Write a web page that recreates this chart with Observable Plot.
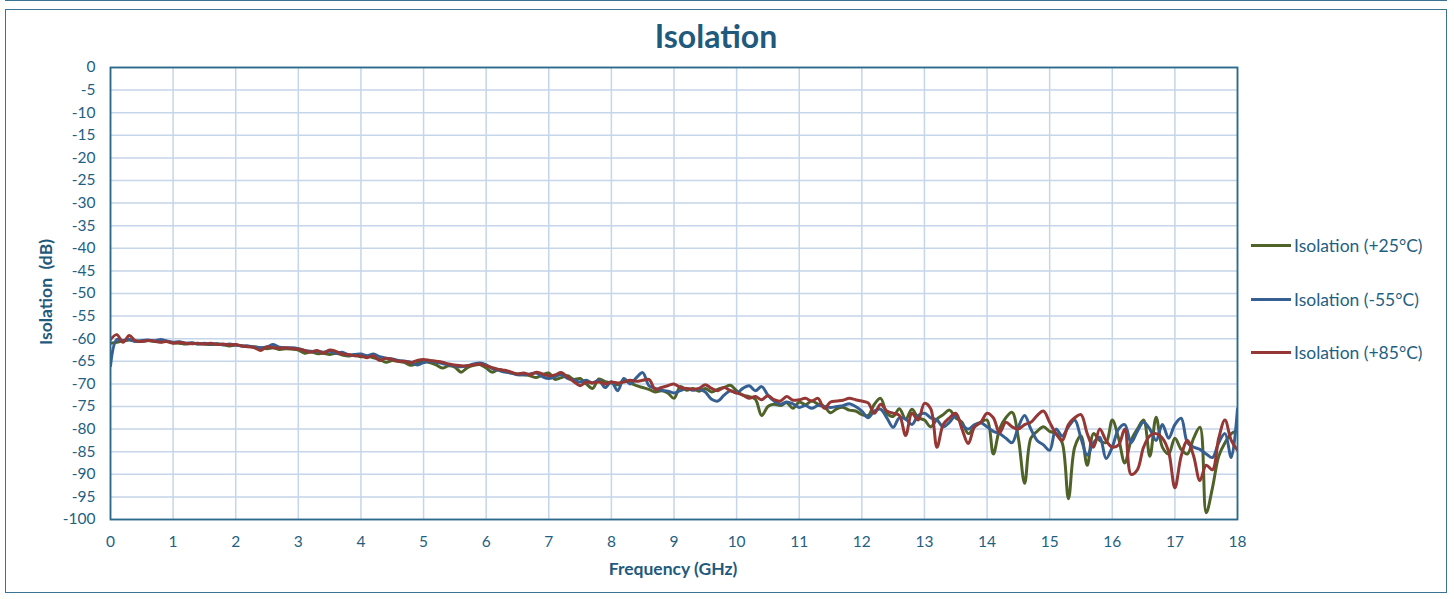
<!DOCTYPE html>
<html>
<head>
<meta charset="utf-8">
<script src="https://cdn.jsdelivr.net/npm/d3@7"></script>
<script src="https://cdn.jsdelivr.net/npm/@observablehq/plot@0.6"></script>
<style>
  html, body { margin: 0; padding: 0; background: #fff; }
  #wrap { position: relative; width: 1454px; height: 599px; font-family: Lato, "Open Sans", sans-serif; overflow: hidden; }
  #topline { position: absolute; left: 5px; top: -2px; width: 1440px; height: 2px; border: 1.5px solid #3b7393; border-top: none; }
  #box { position: absolute; left: 5px; top: 9px; width: 1440px; height: 582px; border: 1.5px solid #3b7393; }
  #title { position: absolute; left: 0; width: 1432px; top: 16px; text-align: center; font-weight: bold; font-size: 32px; color: #1f5a7c; }
  #ylab { position: absolute; left: 45px; top: 292px; transform: translate(-50%, -50%) rotate(-90deg); font-weight: bold; font-size: 17.5px; color: #1f5a7c; white-space: pre; }
  #xlab { position: absolute; left: 673px; top: 568px; transform: translate(-50%, -50%); font-weight: bold; font-size: 17.5px; color: #1f5a7c; }
  .leg { position: absolute; left: 1251px; height: 22px; display: flex; align-items: center; font-size: 17.5px; color: #1f5f82; }
  .leg span.sw { display: inline-block; width: 40px; height: 3px; margin-right: 3px; }
  #chart { position: absolute; left: 0; top: 0; }
</style>
</head>
<body>
<div id="wrap">
  <div id="topline"></div>
  <div id="box"></div>
  <div id="chart"></div>
  <div id="title">Isolation</div>
  <div id="ylab">Isolation  (dB)</div>
  <div id="xlab">Frequency (GHz)</div>
  <div id="legend"></div>
</div>
<script>
const freq = [
0.0,0.1,0.2,0.3,0.4,0.5,0.6,0.7,0.8,0.9,
1.0,1.1,1.2,1.3,1.4,1.5,1.6,1.7,1.8,1.9,
2.0,2.1,2.2,2.3,2.4,2.5,2.6,2.7,2.8,2.9,
3.0,3.1,3.2,3.3,3.4,3.5,3.6,3.7,3.8,3.9,
4.0,4.1,4.2,4.3,4.4,4.5,4.6,4.7,4.8,4.9,
5.0,5.1,5.2,5.3,5.4,5.5,5.6,5.7,5.8,5.9,
6.0,6.1,6.2,6.3,6.4,6.5,6.6,6.7,6.8,6.9,
7.0,7.1,7.2,7.3,7.4,7.5,7.6,7.7,7.8,7.9,
8.0,8.1,8.2,8.3,8.4,8.5,8.6,8.7,8.8,8.9,
9.0,9.1,9.2,9.3,9.4,9.5,9.6,9.7,9.8,9.9,
10.0,10.1,10.2,10.3,10.4,10.5,10.6,10.7,10.8,10.9,
11.0,11.1,11.2,11.3,11.4,11.5,11.6,11.7,11.8,11.9,
12.0,12.1,12.2,12.3,12.4,12.5,12.6,12.7,12.8,12.9,
13.0,13.1,13.2,13.3,13.4,13.5,13.6,13.7,13.8,13.9,
14.0,14.1,14.2,14.3,14.4,14.5,14.6,14.7,14.8,14.9,
15.0,15.1,15.2,15.3,15.4,15.5,15.6,15.7,15.8,15.9,
16.0,16.1,16.2,16.3,16.4,16.5,16.6,16.7,16.8,16.9,
17.0,17.1,17.2,17.3,17.4,17.5,17.6,17.7,17.8,17.9,
18.0];

const iso25 = [
-61,-60.8,-60.5,-60.3,-60.5,-60.6,-60.4,-60.6,-60.7,-60.6,
-60.9,-61.0,-61.2,-61.0,-61.1,-61.2,-61.3,-61.2,-61.3,-61.6,
-61.4,-61.6,-61.7,-61.8,-62.0,-62.2,-62.0,-62.4,-62.2,-62.3,
-62.5,-63.2,-62.9,-63.3,-63.2,-63.5,-63.2,-63.6,-63.8,-63.6,
-64.0,-63.8,-64.2,-64.6,-65.2,-64.8,-65.0,-65.3,-65.9,-65.4,
-65.0,-65.3,-65.8,-66.5,-66.0,-66.3,-67.4,-66.4,-65.9,-65.7,
-66.5,-67.4,-66.8,-67.2,-67.6,-67.8,-68.0,-68.2,-68.6,-68.0,
-67.6,-69.0,-68.6,-68.2,-69.0,-68.8,-70.0,-71.0,-68.9,-69.5,
-69.8,-70.2,-69.2,-69.8,-70.4,-70.8,-71.2,-71.8,-71.5,-72.0,
-73.2,-70.6,-71.4,-71.0,-71.6,-71.0,-71.8,-71.2,-70.8,-70.3,
-71.5,-72.5,-72.8,-73.4,-77.0,-75.0,-74.5,-74.8,-74.2,-75.4,
-74.0,-74.6,-73.8,-74.5,-75.0,-76.4,-75.5,-75.2,-75.8,-76.0,
-76.8,-77.0,-74.5,-73.2,-76.5,-77.2,-75.5,-77.8,-75.6,-77.5,
-78.0,-79.5,-77.8,-76.8,-75.8,-77.5,-78.5,-81.0,-79.5,-78.5,
-78.0,-85.5,-80.0,-77.5,-76.3,-82.0,-92.0,-82.0,-80.5,-79.5,
-80.5,-81.0,-83.0,-95.4,-84.0,-81.5,-88.0,-81.0,-82.5,-83.0,
-78.0,-82.0,-87.5,-82.5,-80.0,-78.0,-86.0,-77.4,-84.0,-85.5,
-82.0,-84.5,-85.5,-82.0,-79.6,-98.5,-93.0,-86.0,-83.0,-81.0,
-80.3];

const isoM55 = [
-66,-60.2,-60.4,-60.2,-60.6,-60.4,-60.3,-60.5,-60.2,-60.5,
-60.8,-60.7,-61.0,-60.9,-61.2,-61.0,-61.2,-61.1,-61.4,-61.2,
-61.4,-61.6,-61.6,-61.9,-62.0,-61.8,-61.3,-61.9,-62.0,-62.0,
-62.2,-62.6,-62.8,-62.8,-63.0,-62.8,-63.2,-63.0,-63.6,-63.5,
-63.4,-63.8,-63.4,-64.0,-64.3,-64.5,-64.8,-65.0,-65.2,-65.8,
-65.3,-65.0,-65.2,-65.5,-65.8,-66.0,-66.2,-66.0,-65.6,-65.4,
-65.8,-66.6,-67.0,-67.4,-67.6,-68.0,-68.0,-67.8,-67.6,-68.4,
-68.8,-68.4,-67.9,-68.8,-69.2,-69.6,-69.2,-69.8,-69.2,-70.8,
-69.5,-71.5,-68.8,-70.0,-68.6,-67.5,-70.4,-71.0,-71.4,-71.6,
-72.0,-71.5,-71.0,-71.4,-71.2,-71.8,-73.4,-73.8,-72.5,-71.5,
-72.0,-71.0,-70.4,-71.5,-70.6,-72.5,-73.8,-74.5,-74.0,-74.4,
-75.2,-74.8,-75.4,-74.8,-75.0,-75.2,-75.0,-74.8,-74.4,-75.0,
-76.0,-77.5,-76.0,-75.6,-77.5,-79.6,-77.5,-77.8,-79.0,-77.0,
-76.5,-77.5,-78.0,-79.5,-78.5,-77.0,-79.0,-80.0,-79.0,-78.6,
-79.5,-80.5,-81.0,-82.0,-83.0,-79.5,-77.0,-80.0,-82.5,-83.5,
-84.7,-80.0,-81.5,-79.5,-78.0,-82.0,-85.8,-83.0,-81.8,-86.5,
-84.0,-80.0,-79.0,-83.0,-80.5,-78.5,-80.0,-82.5,-79.0,-82.0,
-79.0,-77.6,-83.0,-84.0,-84.5,-85.5,-86.3,-83.0,-81.0,-86.3,
-75.5];

const iso85 = [
-60.2,-59.1,-60.8,-59.3,-60.5,-60.6,-60.4,-60.5,-60.8,-60.6,
-61.0,-60.8,-61.0,-61.1,-61.0,-61.2,-61.0,-61.3,-61.2,-61.4,
-61.3,-61.6,-61.8,-62.0,-62.6,-61.8,-62.0,-62.1,-62.0,-62.2,
-62.3,-62.6,-63.0,-62.6,-63.2,-62.5,-62.8,-63.4,-63.5,-63.8,
-63.8,-64.2,-63.8,-64.8,-64.3,-64.6,-65.0,-65.0,-65.3,-64.8,
-64.6,-64.8,-65.0,-65.2,-65.6,-65.8,-66.0,-66.0,-65.8,-65.6,
-66.0,-66.4,-66.8,-67.0,-67.4,-67.8,-67.6,-68.0,-67.4,-67.8,
-68.2,-68.0,-67.5,-68.5,-69.5,-70.4,-69.6,-69.8,-69.6,-70.0,
-69.6,-69.8,-69.6,-69.2,-69.4,-69.2,-69.0,-71.2,-70.8,-70.4,
-70.0,-70.8,-71.0,-71.2,-71.0,-70.2,-71.0,-71.5,-70.8,-71.5,
-72.0,-72.5,-73.2,-72.8,-73.5,-72.6,-73.5,-73.8,-72.8,-73.6,
-73.5,-73.2,-73.8,-73.2,-75.4,-74.0,-73.8,-73.6,-73.2,-73.5,
-73.8,-74.2,-76.5,-74.5,-76.0,-76.5,-77.0,-81.4,-76.5,-78.0,
-74.3,-75.5,-84.0,-79.0,-77.5,-76.5,-80.0,-83.2,-79.5,-78.5,
-76.5,-77.5,-80.8,-78.5,-79.5,-80.0,-79.0,-78.5,-77.0,-76.0,
-78.5,-81.0,-82.5,-79.0,-77.5,-76.8,-81.0,-84.0,-80.0,-82.5,
-84.0,-83.5,-80.0,-90.0,-89.0,-84.0,-81.5,-81.0,-82.0,-85.0,
-93.0,-86.0,-82.5,-86.0,-91.4,-88.0,-89.0,-82.0,-78.0,-82.5,
-84.7];

const seriesNames = ["Isolation (+25°C)", "Isolation (-55°C)", "Isolation (+85°C)"];
const seriesColors = ["#4f6228", "#376092", "#953735"];
const xTicks = [0,1,2,3,4,5,6,7,8,9,10,11,12,13,14,15,16,17,18];
const yTicks = [0,-5,-10,-15,-20,-25,-30,-35,-40,-45,-50,-55,-60,-65,-70,-75,-80,-85,-90,-95,-100];

const seriesValues = [iso25, isoM55, iso85];
const rows = [];
seriesValues.forEach((vals, si) => {
  vals.forEach((v, i) => rows.push({f: freq[i], db: v, s: seriesNames[si]}));
});

const tickColor = "#1f5f82";
const chart = Plot.plot({
  width: 1454,
  height: 599,
  marginLeft: 110,
  marginRight: 217,
  marginTop: 67,
  marginBottom: 80,
  style: {fontFamily: "Lato, 'Open Sans', sans-serif", fontSize: "15.5px", color: tickColor, background: "transparent"},
  x: {domain: [0, 18], label: null},
  y: {domain: [-100, 0], label: null},
  color: {domain: seriesNames, range: seriesColors},
  marks: [
    Plot.gridX(xTicks, {stroke: "#c5d5ea", strokeOpacity: 1, strokeWidth: 1.5}),
    Plot.gridY(yTicks, {stroke: "#c5d5ea", strokeOpacity: 1, strokeWidth: 1.5}),
    Plot.line(rows, {x: "f", y: "db", z: "s", stroke: "s", strokeWidth: 3, curve: "catmull-rom", clip: true}),
    Plot.frame({stroke: "#2c6a8c", strokeWidth: 1.8}),
    Plot.axisX(xTicks, {tickSize: 0, tickPadding: 16, tickFormat: d => String(d), fill: tickColor, fontSize: 15.5}),
    Plot.axisY(yTicks, {tickSize: 0, tickPadding: 15, tickFormat: d => String(d), fill: tickColor, fontSize: 15.5})
  ]
});
document.getElementById("chart").appendChild(chart);

const legY = [245, 299, 352];
const legend = document.getElementById("legend");
seriesNames.forEach((n, i) => {
  const d = document.createElement("div");
  d.className = "leg";
  d.style.top = (legY[i] - 11) + "px";
  d.innerHTML = `<span class="sw" style="background:${seriesColors[i]}"></span>${n}`;
  legend.appendChild(d);
});
</script>
</body>
</html>
